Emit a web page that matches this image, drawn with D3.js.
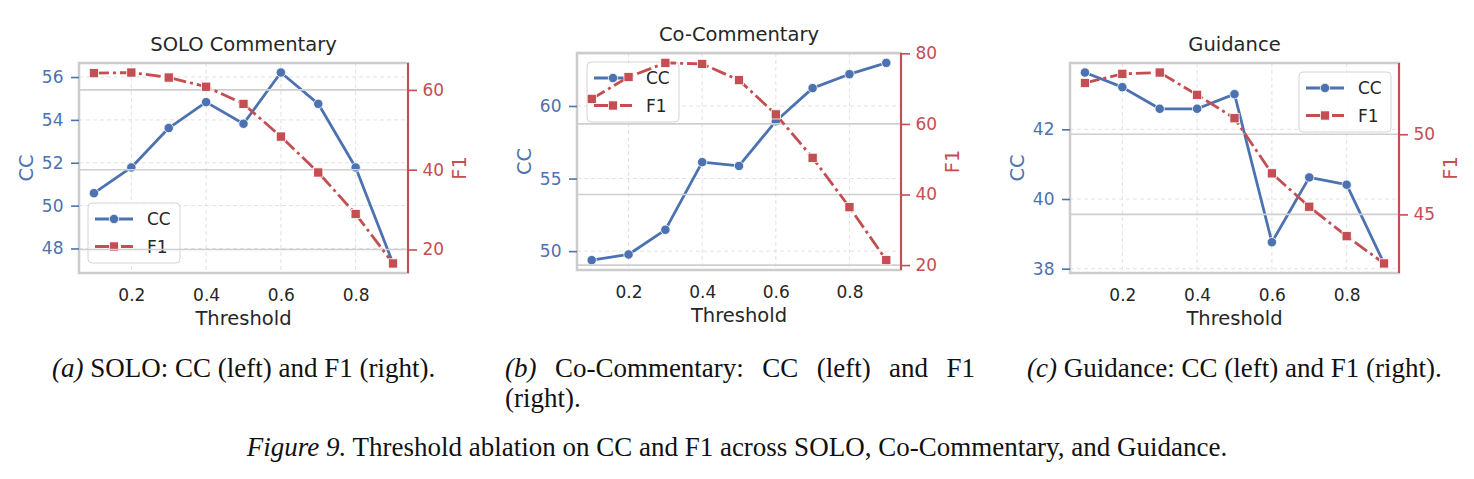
<!DOCTYPE html>
<html lang="en">
<head>
<meta charset="UTF-8">
<title>Threshold ablation on CC and F1</title>
<script src="https://d3js.org/d3.v7.min.js"></script>
<style>
  body { margin: 0; background: #fff; }
  .cap { font-family: "Liberation Serif", "Times New Roman", serif; fill: #111; font-size: 27px; }
</style>
</head>
<body>
<svg id="fig" width="1474" height="479"></svg>
<script>
// data
const thresholds = [0.1, 0.2, 0.3, 0.4, 0.5, 0.6, 0.7, 0.8, 0.9];
const xTicks = [0.2, 0.4, 0.6, 0.8];

const soloCC = [50.58, 51.78, 53.62, 54.83, 53.82, 56.21, 54.75, 51.78, 47.3];
const soloF1 = [64.2, 64.35, 63.1, 60.8, 56.5, 48.3, 39.3, 28.9, 16.5];
const soloCCTicks = [48, 50, 52, 54, 56];
const soloF1Ticks = [20, 40, 60];

const coCC = [49.38, 49.77, 51.47, 56.13, 55.87, 58.95, 61.23, 62.19, 62.97];
const coF1 = [67.1, 73.3, 77.3, 77.0, 72.4, 62.7, 50.4, 36.4, 21.4];
const coCCTicks = [50, 55, 60];
const coF1Ticks = [20, 40, 60, 80];

const guideCC = [43.63, 43.21, 42.59, 42.59, 43.01, 38.76, 40.62, 40.41, 38.15];
const guideF1 = [53.2, 53.77, 53.85, 52.46, 51.0, 47.56, 45.48, 43.64, 41.94];
const guideCCTicks = [38, 40, 42];
const guideF1Ticks = [45, 50];

const titles = ["SOLO Commentary", "Co-Commentary", "Guidance"];
const seriesNames = ["CC", "F1"];

const blue = "#4c72b0", red = "#c44e52", ink = "#262626";
const font = "DejaVu Sans, sans-serif";
const f1Dash = "15,4,3,4";

const svg = d3.select("#fig");

const panels = [
  { title: titles[0], cc: soloCC, f1: soloF1, ccTicks: soloCCTicks, f1Ticks: soloF1Ticks,
    box: { l: 79, r: 408, t: 63, b: 273 }, legend: { x: 88, y: 203 } },
  { title: titles[1], cc: coCC, f1: coF1, ccTicks: coCCTicks, f1Ticks: coF1Ticks,
    box: { l: 577, r: 901, t: 53, b: 270 }, legend: { x: 587, y: 62 } },
  { title: titles[2], cc: guideCC, f1: guideF1, ccTicks: guideCCTicks, f1Ticks: guideF1Ticks,
    box: { l: 1070, r: 1399, t: 63, b: 273 }, legend: { x: 1299, y: 72 } }
];

// matplotlib-like 5% autoscale margins
function padded(v) {
  const [lo, hi] = d3.extent(v);
  const p = (hi - lo) * 0.05;
  return [lo - p, hi + p];
}

function drawMarker(sel, kind, color) {
  if (kind === "circle") {
    sel.append("circle").attr("r", 4.7).attr("fill", color)
      .attr("stroke", "#fff").attr("stroke-width", 0.8);
  } else {
    sel.append("rect").attr("x", -4.6).attr("y", -4.6).attr("width", 9.2).attr("height", 9.2)
      .attr("fill", color).attr("stroke", "#fff").attr("stroke-width", 0.8);
  }
}

panels.forEach(p => {
  const { l, r, t, b } = p.box;
  const g = svg.append("g");
  const x = d3.scaleLinear().domain([0.06, 0.94]).range([l, r]);
  const yL = d3.scaleLinear().domain(padded(p.cc)).range([b, t]);
  const yR = d3.scaleLinear().domain(padded(p.f1)).range([b, t]);

  // light dashed grid of the first axis
  g.append("g").selectAll("line").data(xTicks).join("line")
    .attr("x1", d => x(d)).attr("x2", d => x(d)).attr("y1", t).attr("y2", b)
    .attr("stroke", "#e2e2e2").attr("stroke-width", 1).attr("stroke-dasharray", "4,3");
  g.append("g").selectAll("line").data(p.ccTicks).join("line")
    .attr("x1", l).attr("x2", r).attr("y1", d => yL(d)).attr("y2", d => yL(d))
    .attr("stroke", "#e2e2e2").attr("stroke-width", 1).attr("stroke-dasharray", "4,3");

  // CC series
  const ccLine = d3.line().x((d, i) => x(thresholds[i])).y(d => yL(d));
  g.append("path").datum(p.cc).attr("d", ccLine)
    .attr("fill", "none").attr("stroke", blue).attr("stroke-width", 2.8)
    .attr("stroke-linejoin", "round");
  g.append("g").selectAll("g").data(p.cc).join("g")
    .attr("transform", (d, i) => `translate(${x(thresholds[i])},${yL(d)})`)
    .each(function () { drawMarker(d3.select(this), "circle", blue); });

  // legend (belongs to first axis, so the twin axis draws over it)
  const lg = g.append("g").attr("transform", `translate(${p.legend.x},${p.legend.y})`);
  lg.append("rect").attr("width", 92).attr("height", 60).attr("rx", 4)
    .attr("fill", "#fff").attr("fill-opacity", 0.8)
    .attr("stroke", "#d4d4d4").attr("stroke-width", 1);
  [[blue, "circle", null, 16], [red, "square", f1Dash, 43.5]].forEach(([c, m, dash, yy], i) => {
    lg.append("line").attr("x1", 7).attr("x2", 45).attr("y1", yy).attr("y2", yy)
      .attr("stroke", c).attr("stroke-width", 2.8).attr("stroke-dasharray", dash);
    drawMarker(lg.append("g").attr("transform", `translate(26,${yy})`), m, c);
    lg.append("text").attr("x", 59).attr("y", yy).attr("dy", "0.36em")
      .attr("font-family", font).attr("font-size", 17).attr("fill", ink)
      .text(seriesNames[i]);
  });

  // solid grid of the twin axis
  g.append("g").selectAll("line").data(p.f1Ticks).join("line")
    .attr("x1", l).attr("x2", r).attr("y1", d => yR(d)).attr("y2", d => yR(d))
    .attr("stroke", "#cfcfcf").attr("stroke-width", 1.6);

  // F1 series
  const f1Line = d3.line().x((d, i) => x(thresholds[i])).y(d => yR(d));
  g.append("path").datum(p.f1).attr("d", f1Line)
    .attr("fill", "none").attr("stroke", red).attr("stroke-width", 2.8)
    .attr("stroke-dasharray", f1Dash);
  g.append("g").selectAll("g").data(p.f1).join("g")
    .attr("transform", (d, i) => `translate(${x(thresholds[i])},${yR(d)})`)
    .each(function () { drawMarker(d3.select(this), "square", red); });

  // spines
  g.append("rect").attr("x", l).attr("y", t).attr("width", r - l).attr("height", b - t)
    .attr("fill", "none").attr("stroke", "#cccccc").attr("stroke-width", 2.5);
  g.append("line").attr("x1", r).attr("x2", r).attr("y1", t).attr("y2", b)
    .attr("stroke", red).attr("stroke-width", 2);

  // axes
  const axL = g.append("g").attr("transform", `translate(${l},0)`)
    .call(d3.axisLeft(yL).tickValues(p.ccTicks).tickSize(8).tickPadding(7.5).tickFormat(d3.format("d")));
  axL.select(".domain").remove();
  axL.selectAll(".tick line").attr("stroke", blue).attr("stroke-width", 1.6);
  axL.selectAll("text").attr("fill", blue).attr("font-family", font).attr("font-size", 17);

  const axR = g.append("g").attr("transform", `translate(${r},0)`)
    .call(d3.axisRight(yR).tickValues(p.f1Ticks).tickSize(9).tickPadding(5.5).tickFormat(d3.format("d")));
  axR.select(".domain").remove();
  axR.selectAll(".tick line").attr("stroke", red).attr("stroke-width", 1.6);
  axR.selectAll("text").attr("fill", red).attr("font-family", font).attr("font-size", 17);

  const axB = g.append("g").attr("transform", `translate(0,${b})`)
    .call(d3.axisBottom(x).tickValues(xTicks).tickSize(0).tickPadding(16).tickFormat(d3.format(".1f")));
  axB.select(".domain").remove();
  axB.selectAll("text").attr("fill", ink).attr("font-family", font).attr("font-size", 17);

  // labels
  g.append("text").attr("x", (l + r) / 2).attr("y", t - 12).attr("text-anchor", "middle")
    .attr("font-family", font).attr("font-size", 19.5).attr("fill", ink).text(p.title);
  g.append("text").attr("x", (l + r) / 2).attr("y", b + 52).attr("text-anchor", "middle")
    .attr("font-family", font).attr("font-size", 19.5).attr("fill", ink).text("Threshold");
  g.append("text").attr("transform", `translate(${l - 53},${(t + b) / 2}) rotate(-90)`)
    .attr("text-anchor", "middle").attr("dy", "0.36em")
    .attr("font-family", font).attr("font-size", 19.5).attr("fill", blue).text("CC");
  g.append("text").attr("transform", `translate(${r + 51},${(t + b) / 2}) rotate(-90)`)
    .attr("text-anchor", "middle").attr("dy", "0.36em")
    .attr("font-family", font).attr("font-size", 19.5).attr("fill", red).text("F1");
});

// captions
function caption(xx, yy, tag, rest) {
  const tx = svg.append("text").attr("class", "cap").attr("x", xx).attr("y", yy);
  tx.append("tspan").attr("font-style", "italic").text(tag);
  tx.append("tspan").text(rest);
}
caption(52, 377, "(a)", " SOLO: CC (left) and F1 (right).");
caption(1027, 377, "(c)", " Guidance: CC (left) and F1 (right).");

// (b) is justified over two lines
const bWords = ["(b)", "Co-Commentary:", "CC", "(left)", "and", "F1"];
const bNodes = bWords.map((w, i) => svg.append("text").attr("class", "cap")
  .attr("y", 377).attr("font-style", i === 0 ? "italic" : null).text(w));
const widths = bNodes.map(n => n.node().getComputedTextLength());
const gap = (975 - 505 - d3.sum(widths)) / (bWords.length - 1);
let cx = 505;
bNodes.forEach((n, i) => { n.attr("x", cx); cx += widths[i] + gap; });
svg.append("text").attr("class", "cap").attr("x", 505).attr("y", 407).text("(right).");

const fig = svg.append("text").attr("class", "cap").attr("x", 737).attr("y", 456)
  .attr("text-anchor", "middle");
fig.append("tspan").attr("font-style", "italic").text("Figure 9.");
fig.append("tspan").text(" Threshold ablation on CC and F1 across SOLO, Co-Commentary, and Guidance.");
</script>
</body>
</html>
